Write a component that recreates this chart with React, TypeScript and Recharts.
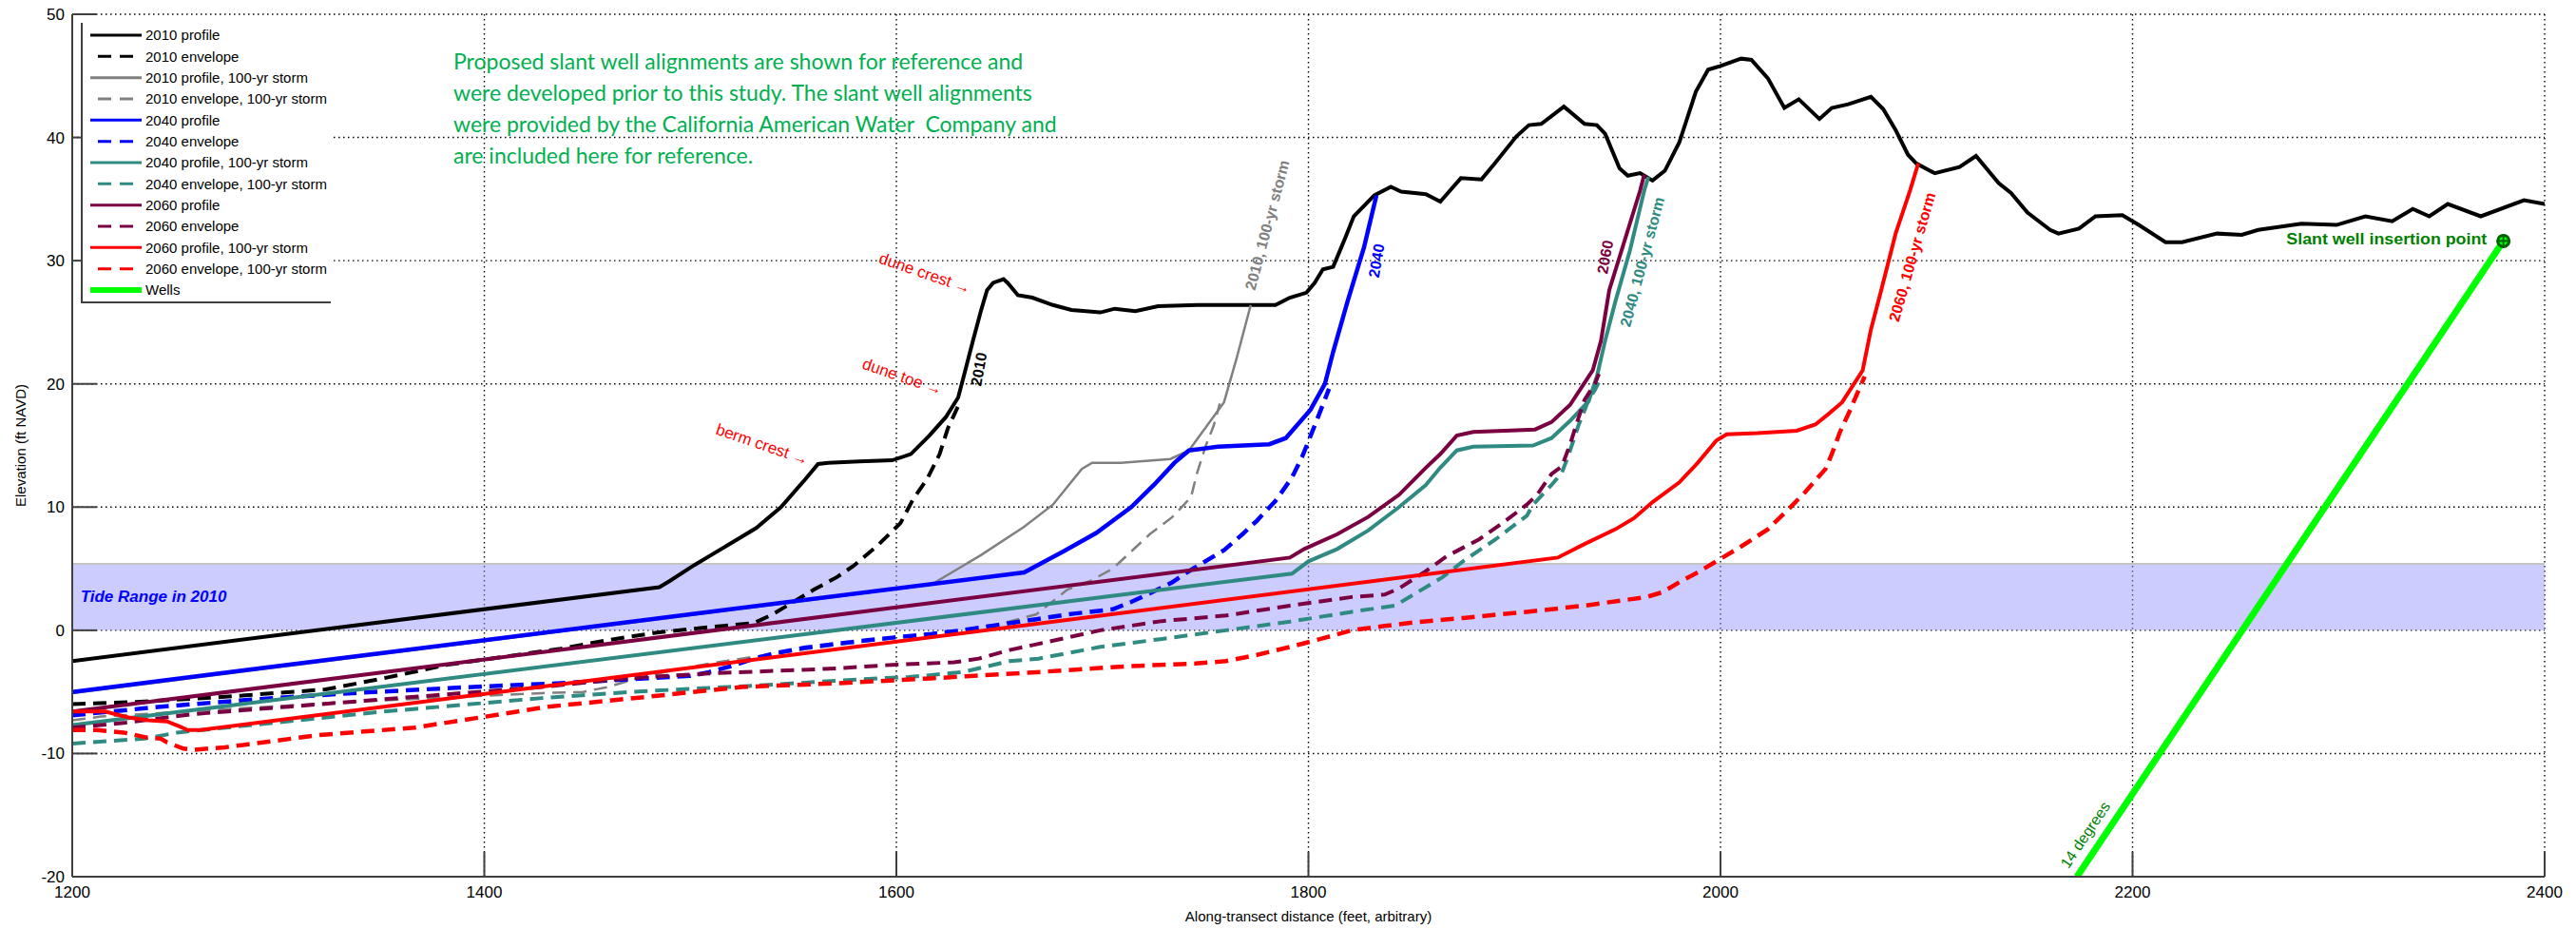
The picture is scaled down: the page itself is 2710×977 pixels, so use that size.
import React from 'react';
import {
  ComposedChart,
  Line,
  XAxis,
  YAxis,
  CartesianGrid,
  ReferenceArea,
  ReferenceLine,
  ReferenceDot,
  Legend,
  Label,
} from 'recharts';

const xTicks = [1200, 1400, 1600, 1800, 2000, 2200, 2400];
const yTicks = [-20, -10, 0, 10, 20, 30, 40, 50];
const tideTop = 5.4;

// 2010 beach / dune profile
const profile2010X = [1200, 1485, 1490, 1502, 1518, 1532, 1544, 1556, 1562, 1567, 1582, 1598, 1607, 1616, 1624, 1630, 1633, 1637, 1641, 1644, 1647, 1652, 1654, 1659, 1666, 1676, 1685, 1699, 1706, 1716, 1727, 1746, 1770, 1784, 1791, 1799, 1803, 1807, 1812, 1816, 1818, 1822, 1832, 1840, 1845, 1857, 1864, 1874, 1884, 1890, 1901, 1907, 1913, 1924, 1934, 1940, 1944, 1951, 1955, 1961, 1967, 1973, 1980, 1988, 1994, 2000, 2010, 2015, 2023, 2031, 2038, 2048, 2054, 2062, 2073, 2079, 2085, 2091, 2095, 2104, 2116, 2124, 2135, 2141, 2149, 2160, 2164, 2174, 2182, 2195, 2203, 2216, 2224, 2241, 2253, 2261, 2282, 2299, 2313, 2326, 2336, 2344, 2353, 2369, 2390, 2400];
const profile2010Y = [-2.5, 3.5, 4.0, 5.3, 6.9, 8.3, 10.0, 12.3, 13.5, 13.6, 13.7, 13.8, 14.3, 15.8, 17.3, 18.9, 20.8, 23.4, 25.9, 27.6, 28.2, 28.5, 28.2, 27.2, 27.0, 26.4, 26.0, 25.8, 26.1, 25.9, 26.3, 26.4, 26.4, 26.4, 27.0, 27.4, 28.2, 29.3, 29.5, 31.1, 31.9, 33.6, 35.3, 36.0, 35.6, 35.4, 34.8, 36.7, 36.6, 37.8, 40.1, 41.0, 41.1, 42.5, 41.1, 41.0, 40.3, 37.5, 36.9, 37.1, 36.5, 37.3, 39.6, 43.7, 45.5, 45.8, 46.4, 46.3, 44.8, 42.4, 43.1, 41.5, 42.4, 42.7, 43.3, 42.3, 40.6, 38.6, 37.9, 37.1, 37.6, 38.5, 36.3, 35.5, 33.9, 32.5, 32.2, 32.6, 33.6, 33.7, 32.9, 31.5, 31.5, 32.2, 32.1, 32.5, 33.0, 32.9, 33.6, 33.2, 34.2, 33.6, 34.6, 33.6, 34.9, 34.6];

const envelope2010X = [1200, 1233, 1274, 1323, 1351, 1382, 1437, 1460, 1483, 1506, 1531, 1540, 1548, 1560, 1571, 1579, 1591, 1602, 1608, 1615, 1621, 1625, 1630];
const envelope2010Y = [-6.0, -5.8, -5.4, -4.8, -3.9, -2.8, -1.5, -0.8, -0.2, 0.2, 0.6, 1.3, 2.1, 3.3, 4.3, 5.2, 6.9, 8.7, 10.6, 12.3, 14.3, 16.4, 18.2];

const storm2010X = [1200, 1617, 1641, 1662, 1676, 1690, 1695, 1709, 1733, 1742, 1759, 1765, 1772];
const storm2010Y = [-5.1, 3.7, 6.1, 8.4, 10.2, 13.1, 13.6, 13.6, 13.9, 14.6, 18.5, 22.0, 26.4];

const stormEnv2010X = [1200, 1214, 1336, 1428, 1448, 1460, 1470, 1490, 1509, 1537, 1570, 1600, 1630, 1650, 1668, 1683, 1694, 1705, 1714, 1723, 1734, 1743, 1746, 1750, 1754, 1757];
const stormEnv2010Y = [-7.3, -7.0, -5.8, -5.1, -5.0, -4.6, -4.1, -3.3, -2.7, -2.0, -1.2, -0.6, 0.0, 0.5, 1.3, 3.3, 4.0, 5.0, 6.4, 7.8, 9.2, 10.8, 12.8, 14.9, 16.6, 18.4];

const profile2040X = [1200, 1662, 1681, 1697, 1714, 1725, 1735, 1742, 1756, 1781, 1789, 1801, 1808, 1812, 1819, 1827, 1833];
const profile2040Y = [-5.0, 4.7, 6.4, 7.9, 10.0, 11.8, 13.6, 14.6, 14.9, 15.1, 15.6, 17.9, 20.0, 22.6, 26.7, 31.1, 35.3];

const envelope2040X = [1200, 1243, 1289, 1336, 1382, 1420, 1437, 1500, 1509, 1520, 1531, 1540, 1556, 1571, 1586, 1598, 1617, 1632, 1648, 1668, 1686, 1705, 1714, 1723, 1734, 1741, 1749, 1759, 1768, 1775, 1784, 1792, 1797, 1803, 1810];
const envelope2040Y = [-6.9, -6.2, -5.6, -5.1, -4.7, -4.4, -4.3, -3.7, -3.4, -2.9, -2.3, -1.9, -1.4, -1.1, -0.8, -0.6, -0.3, 0.0, 0.4, 0.9, 1.35, 1.7, 2.3, 3.0, 3.9, 4.7, 5.5, 6.5, 7.8, 8.9, 10.5, 12.4, 14.1, 16.6, 19.6];

const storm2040X = [1200, 1792, 1800, 1814, 1829, 1844, 1857, 1864, 1872, 1880, 1909, 1918, 1927, 1936, 1940, 1944, 1949, 1956, 1963, 1965];
const storm2040Y = [-7.7, 4.6, 5.6, 6.6, 8.1, 10.0, 11.8, 13.2, 14.6, 14.9, 15.0, 15.6, 17.0, 18.6, 20.6, 23.5, 26.7, 30.8, 35.7, 36.8];

const stormEnv2040X = [1200, 1235, 1251, 1351, 1428, 1471, 1530, 1591, 1606, 1632, 1655, 1669, 1699, 1729, 1760, 1791, 1821, 1842, 1852, 1865, 1875, 1891, 1906, 1909, 1918, 1923, 1926, 1931, 1936, 1939, 1942];
const stormEnv2040Y = [-9.2, -8.8, -8.3, -6.6, -5.5, -5.0, -4.5, -3.9, -3.8, -3.4, -2.5, -2.3, -1.35, -0.7, 0.0, 0.7, 1.5, 2.0, 3.0, 4.3, 5.6, 7.4, 9.3, 10.2, 11.8, 12.8, 14.1, 16.6, 18.7, 19.5, 20.5];

const profile2060X = [1200, 1791, 1798, 1814, 1829, 1844, 1857, 1864, 1872, 1880, 1910, 1918, 1927, 1938, 1942, 1946, 1956, 1961, 1963];
const profile2060Y = [-6.6, 5.9, 6.6, 7.8, 9.2, 11.0, 13.2, 14.3, 15.8, 16.1, 16.3, 16.9, 18.3, 21.1, 23.5, 27.6, 33.0, 35.7, 37.0];

const envelope2060X = [1200, 1226, 1259, 1305, 1351, 1397, 1428, 1469, 1509, 1540, 1571, 1598, 1628, 1640, 1655, 1669, 1699, 1729, 1760, 1791, 1821, 1837, 1844, 1857, 1867, 1883, 1895, 1906, 1911, 1918, 1923, 1927, 1931, 1934, 1939, 1941];
const envelope2060Y = [-7.9, -7.5, -6.8, -6.2, -5.6, -5.0, -4.6, -3.9, -3.5, -3.3, -3.1, -2.8, -2.6, -2.3, -1.6, -1.1, 0.0, 0.75, 1.2, 2.0, 2.7, 2.9, 3.4, 4.8, 6.0, 7.4, 8.8, 10.2, 11.0, 12.7, 13.3, 15.1, 17.2, 18.7, 20.0, 20.8];

const storm2060X = [1200, 1216, 1223, 1228, 1237, 1246, 1252, 1256, 1262, 1921, 1934, 1949, 1958, 1967, 1980, 1989, 1998, 2003, 2018, 2037, 2046, 2052, 2059, 2069, 2073, 2078, 2085, 2092, 2096];
const storm2060Y = [-6.6, -6.6, -6.9, -7.1, -7.3, -7.4, -7.8, -8.1, -8.1, 5.9, 7.0, 8.2, 9.1, 10.4, 12.0, 13.6, 15.4, 15.9, 16.0, 16.2, 16.7, 17.5, 18.5, 21.1, 24.4, 27.6, 32.2, 35.7, 37.9];

const stormEnv2060X = [1200, 1212, 1225, 1236, 1243, 1246, 1254, 1259, 1274, 1320, 1366, 1397, 1431, 1479, 1525, 1571, 1617, 1668, 1714, 1745, 1760, 1775, 1791, 1806, 1821, 1837, 1852, 1875, 1906, 1934, 1964, 1972, 1980, 1989, 1998, 2010, 2023, 2034, 2041, 2051, 2054, 2058, 2063, 2065, 2070];
const stormEnv2060Y = [-8.1, -8.1, -8.3, -8.7, -8.8, -9.1, -9.6, -9.7, -9.5, -8.5, -7.9, -7.1, -6.2, -5.4, -4.6, -4.3, -3.9, -3.4, -2.9, -2.7, -2.5, -2.0, -1.35, -0.7, 0.0, 0.35, 0.65, 1.0, 1.5, 2.0, 2.7, 3.1, 3.9, 4.7, 5.6, 6.8, 8.2, 10.0, 11.2, 13.1, 14.3, 16.1, 17.9, 18.7, 20.6];

// slant well alignment (14 degrees) ending at the insertion point
const wellsX = [2173, 2380];
const wellsY = [-20, 31.6];

const zip = (xs: number[], ys: number[]) => xs.map((x, i) => ({ x, y: ys[i] }));

const DASH = '14 8';

const series = [
  { name: '2010 profile', color: '#000000', width: 4, data: zip(profile2010X, profile2010Y) },
  { name: '2010 envelope', color: '#000000', width: 4, dash: DASH, data: zip(envelope2010X, envelope2010Y) },
  { name: '2010 profile, 100-yr storm', color: '#808080', width: 2.5, data: zip(storm2010X, storm2010Y) },
  { name: '2010 envelope, 100-yr storm', color: '#808080', width: 2.5, dash: DASH, data: zip(stormEnv2010X, stormEnv2010Y) },
  { name: '2040 profile', color: '#0000ff', width: 4.5, data: zip(profile2040X, profile2040Y) },
  { name: '2040 envelope', color: '#0000ff', width: 4.5, dash: DASH, data: zip(envelope2040X, envelope2040Y) },
  { name: '2040 profile, 100-yr storm', color: '#2f8a82', width: 4, data: zip(storm2040X, storm2040Y) },
  { name: '2040 envelope, 100-yr storm', color: '#2f8a82', width: 4, dash: DASH, data: zip(stormEnv2040X, stormEnv2040Y) },
  { name: '2060 profile', color: '#7a0041', width: 4, data: zip(profile2060X, profile2060Y) },
  { name: '2060 envelope', color: '#7a0041', width: 4, dash: DASH, data: zip(envelope2060X, envelope2060Y) },
  { name: '2060 profile, 100-yr storm', color: '#ff0000', width: 4, data: zip(storm2060X, storm2060Y) },
  { name: '2060 envelope, 100-yr storm', color: '#ff0000', width: 4.5, dash: DASH, data: zip(stormEnv2060X, stormEnv2060Y) },
  { name: 'Wells', color: '#00ff00', width: 7, data: zip(wellsX, wellsY) },
];

// text placed on the plot, anchored in data units
const notes = [
  { x: 1614, y: 29.0, text: 'dune crest \u2192', color: '#ff0000', angle: 19, size: 17, weight: 'normal', anchor: 'middle' },
  { x: 1603, y: 20.6, text: 'dune toe \u2192', color: '#ff0000', angle: 19, size: 17, weight: 'normal', anchor: 'middle' },
  { x: 1535, y: 15.1, text: 'berm crest \u2192', color: '#ff0000', angle: 19, size: 17, weight: 'normal', anchor: 'middle' },
  { x: 1640, y: 21.2, text: '2010', color: '#000000', angle: -80, size: 16, weight: 'bold', anchor: 'middle' },
  { x: 1780, y: 32.9, text: '2010, 100-yr storm', color: '#808080', angle: -75, size: 16, weight: 'bold', anchor: 'middle' },
  { x: 1833, y: 30.0, text: '2040', color: '#0000ff', angle: -80, size: 16, weight: 'bold', anchor: 'middle' },
  { x: 1944, y: 30.3, text: '2060', color: '#7a0041', angle: -80, size: 16, weight: 'bold', anchor: 'middle' },
  { x: 1962, y: 29.9, text: '2040, 100-yr storm', color: '#2f8a82', angle: -75, size: 16, weight: 'bold', anchor: 'middle' },
  { x: 2093, y: 30.3, text: '2060, 100-yr storm', color: '#ff0000', angle: -74, size: 16, weight: 'bold', anchor: 'middle' },
  { x: 2177, y: -16.6, text: '14 degrees', color: '#008000', angle: -56, size: 16, weight: 'normal', anchor: 'middle' },
  { x: 2372, y: 31.8, text: 'Slant well insertion point', color: '#008000', angle: 0, size: 17, weight: 'bold', anchor: 'end', length: 211 },
  { x: 1204, y: 2.75, text: 'Tide Range in 2010', color: '#0000ff', angle: 0, size: 17, weight: 'bold', anchor: 'start', italic: true },
];

const paragraph = [
  'Proposed slant well alignments are shown for reference and',
  'were developed prior to this study. The slant well alignments',
  'were provided by the California American Water  Company and',
  'are included here for reference.',
];

const AXIS = '#404040';

const YTick = ({ x, y, payload }: any) => (
  <g>
    <line x1={x + 8} x2={x + 34} y1={y} y2={y} stroke={AXIS} strokeWidth={2} />
    <text x={x} y={y} dy="0.35em" textAnchor="end" fontSize={17} fill="#000">
      {payload.value}
    </text>
  </g>
);

const XTick = ({ x, y, payload }: any) => (
  <g>
    <line x1={x} x2={x} y1={y - 10} y2={y - 36} stroke={AXIS} strokeWidth={2} />
    <text x={x} y={y} dy="0.71em" textAnchor="middle" fontSize={17} fill="#000">
      {payload.value}
    </text>
  </g>
);

const NoteLabel = ({ viewBox, note }: any) => {
  const cx = viewBox.x + (viewBox.width || 0) / 2;
  const cy = viewBox.y + (viewBox.height || 0) / 2;
  return (
    <text
      x={cx}
      y={cy}
      dy="0.35em"
      transform={`rotate(${note.angle} ${cx} ${cy})`}
      textAnchor={note.anchor}
      fontSize={note.size}
      fontWeight={note.weight}
      fontStyle={note.italic ? 'italic' : 'normal'}
      fill={note.color}
      textLength={note.length}
      lengthAdjust={note.length ? 'spacingAndGlyphs' : undefined}
    >
      {note.text}
    </text>
  );
};

const InsertionMark = ({ cx, cy }: any) => (
  <g>
    <circle cx={cx} cy={cy} r={6} fill="#00ff00" stroke="#006400" strokeWidth={3} />
    <line x1={cx - 7} x2={cx + 7} y1={cy} y2={cy} stroke="#006400" strokeWidth={2} />
    <line x1={cx} x2={cx} y1={cy - 7} y2={cy + 7} stroke="#006400" strokeWidth={2} />
  </g>
);

const LegendBox = () => (
  <div
    style={{
      width: 263,
      height: 295,
      background: '#fff',
      borderLeft: `2px solid ${AXIS}`,
      borderBottom: `2px solid ${AXIS}`,
      boxSizing: 'border-box',
    }}
  >
    <svg width={261} height={293} style={{ display: 'block' }}>
      {series.map((s, i) => {
        const cy = 13 + i * 22.33;
        return (
          <g key={s.name}>
            <line
              x1={s.dash ? 16 : 8}
              x2={62}
              y1={cy}
              y2={cy}
              stroke={s.color}
              strokeWidth={s.name === 'Wells' ? 6 : 3}
              strokeDasharray={s.dash ? '14 9' : undefined}
            />
            <text x={66} y={cy} dy="0.35em" fontSize={15} fill="#000" fontFamily="Liberation Sans, Arial, sans-serif">
              {s.name}
            </text>
          </g>
        );
      })}
    </svg>
  </div>
);

export default function App() {
  return (
    <div style={{ position: 'absolute', left: 0, top: 0, width: 2710, height: 977, background: '#fff' }}>
      <ComposedChart
        width={2710}
        height={977}
        margin={{ top: 15, right: 33, bottom: 0, left: 0 }}
        style={{ fontFamily: 'Liberation Sans, Arial, sans-serif' }}
      >
        <CartesianGrid stroke="#000" strokeDasharray="1.5 3.5" strokeWidth={1.4} />
        <XAxis
          type="number"
          dataKey="x"
          domain={[1200, 2400]}
          ticks={xTicks}
          interval={0}
          allowDataOverflow
          height={55}
          tickSize={0}
          tickMargin={10}
          tick={<XTick />}
          axisLine={{ stroke: AXIS, strokeWidth: 2 }}
          tickLine={false}
        >
          <Label
            value="Along-transect distance (feet, arbitrary)"
            position="insideBottom"
            offset={8}
            style={{ fontSize: 15, fill: '#000' }}
          />
        </XAxis>
        <YAxis
          type="number"
          dataKey="y"
          domain={[-20, 50]}
          ticks={yTicks}
          interval={0}
          allowDataOverflow
          width={76}
          tickSize={0}
          tickMargin={8}
          tick={<YTick />}
          axisLine={{ stroke: AXIS, strokeWidth: 2 }}
          tickLine={false}
        >
          <Label
            value="Elevation (ft NAVD)"
            angle={-90}
            position="insideLeft"
            offset={22}
            style={{ fontSize: 15, fill: '#000', textAnchor: 'middle' }}
          />
        </YAxis>
        <ReferenceArea x1={1200} x2={2400} y1={0} y2={tideTop} fill="#9999ff" fillOpacity={0.5} stroke="none" />
        <ReferenceLine y={tideTop} stroke="#c4c4c4" strokeWidth={2} />
        {series.map((s) => (
          <Line
            key={s.name}
            data={s.data}
            dataKey="y"
            name={s.name}
            type="linear"
            stroke={s.color}
            strokeWidth={s.width}
            strokeDasharray={s.dash}
            dot={false}
            activeDot={false}
            isAnimationActive={false}
          />
        ))}
        <ReferenceDot x={wellsX[1]} y={wellsY[1]} r={6} shape={<InsertionMark />} />
        {notes.map((n) => (
          <ReferenceDot
            key={n.text}
            x={n.x}
            y={n.y}
            r={0}
            fill="none"
            stroke="none"
            label={<NoteLabel note={n} />}
          />
        ))}
        <Legend
          content={<LegendBox />}
          layout="horizontal"
          verticalAlign="middle"
          align="center"
          wrapperStyle={{ left: 85, top: 24, width: 263, height: 295 }}
        />
      </ComposedChart>
      <div
        style={{
          position: 'absolute',
          left: 477,
          top: 48,
          fontFamily: 'Lato, "Open Sans", sans-serif',
          fontSize: 23,
          lineHeight: '33px',
          color: '#00b050',
          whiteSpace: 'pre',
        }}
      >
        {paragraph.join('\n')}
      </div>
    </div>
  );
}
